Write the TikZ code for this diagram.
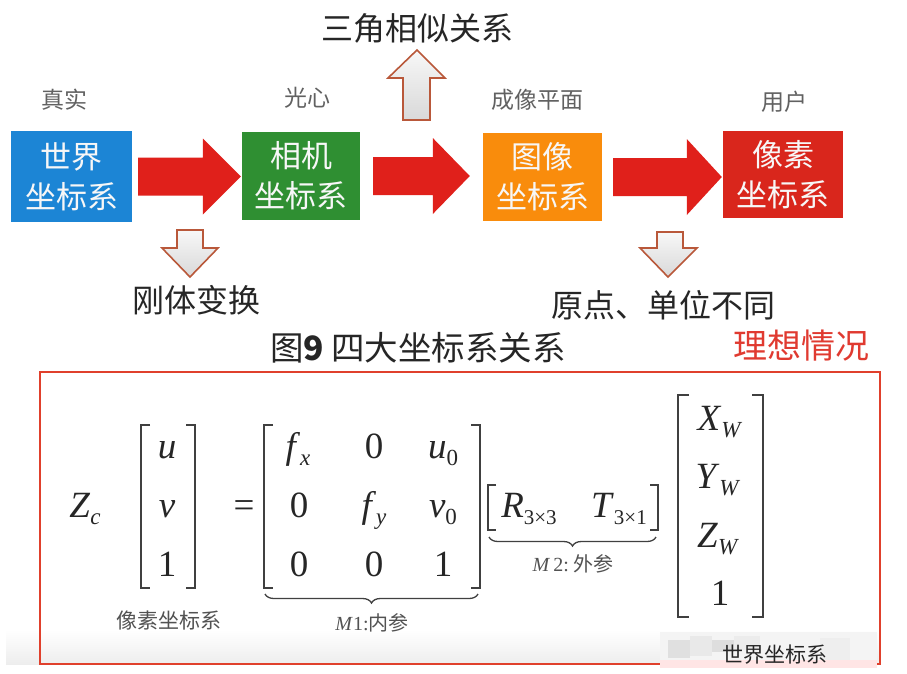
\documentclass[tikz,border=0pt]{standalone}
\usepackage{fontspec}
\setmainfont{Noto Sans CJK SC}
\newfontfamily\tms{Liberation Serif}
\usetikzlibrary{calc,decorations.pathreplacing}
\definecolor{bblue}{HTML}{1C85D5}
\definecolor{bgreen}{HTML}{2F8F32}
\definecolor{borange}{HTML}{F98C0C}
\definecolor{bred}{HTML}{D9261C}
\definecolor{arrowred}{HTML}{E0201B}
\definecolor{hollowedge}{HTML}{B9583A}
\definecolor{framered}{HTML}{E0402C}
\definecolor{idealred}{HTML}{E03A30}
\newcommand\sbs[1]{\raisebox{-7pt}{\fontsize{23}{23}\selectfont #1}}
\newcommand\sbt[1]{\raisebox{-7pt}{\fontsize{21}{21}\selectfont #1}}
\newcommand\fatarrow[3]{%
  \fill[fat] let \p1=#1, \p2=#2 in
    (\x1,\y1+19pt) -- (\x2-#3pt,\y1+19pt) -- (\x2-#3pt,\y1+38pt) -- (\x2,\y1)
    -- (\x2-#3pt,\y1-38pt) -- (\x2-#3pt,\y1-19pt) -- (\x1,\y1-19pt) -- cycle;}
\newcommand\brackets[5]{%
  \draw[brk] (#1+#5,#3) -- (#1,#3) -- (#1,#4) -- (#1+#5,#4);
  \draw[brk] (#2-#5,#3) -- (#2,#3) -- (#2,#4) -- (#2-#5,#4);}
\tikzset{
  cbox/.style={minimum width=120, minimum height=89, inner sep=0, text=white!94!gray,
    align=center, font=\fontsize{31}{40}\selectfont},
  toplbl/.style={text=black!62, font=\fontsize{23}{23}\selectfont, inner sep=0},
  biglbl/.style={text=black!85, font=\fontsize{32}{32}\selectfont, inner sep=0},
  fat/.style={fill=arrowred},
  hollow/.style={draw=hollowedge, line width=1.6, top color=gray!6, bottom color=gray!30},
  ent/.style={anchor=base, inner sep=0, font=\tms\fontsize{37}{37}\selectfont, text=black!85},
  brk/.style={draw=black!75, line width=1.8},
  sm/.style={inner sep=0, text=black!68, font=\fontsize{20}{20}\selectfont},
}
\begin{document}
\begin{tikzpicture}[x=1pt,y=-1pt]
\useasboundingbox (0,0) rectangle (907,673);
\fill[white] (0,0) rectangle (907,673);

% boxes
\node[cbox, fill=bblue, minimum width=121, minimum height=91] (w) at (71.5,176.5) {世界\\坐标系};
\node[cbox, fill=bgreen, minimum width=118, minimum height=88] (c) at (301,176) {相机\\坐标系};
\node[cbox, fill=borange, minimum width=119, minimum height=88] (i) at (542.5,177) {图像\\坐标系};
\node[cbox, fill=bred, minimum width=120, minimum height=87] (p) at (783,174.5) {像素\\坐标系};

% top labels
\node[toplbl] (l1) at (64,100) {真实};
\node[toplbl] (l2) at (307,98) {光心};
\node[toplbl] (l3) at (537,100) {成像平面};
\node[toplbl] (l4) at (784,102) {用户};

% fat arrows
\fatarrow{($(w.east)+(6,0)$)}{($(c.west)+(-1,0)$)}{38}
\fatarrow{($(c.east)+(13,0)$)}{($(i.west)+(-13,0)$)}{37}
\fatarrow{($(i.east)+(11,0)$)}{($(p.west)+(-1,0)$)}{35}

% hollow arrows
\draw[hollow] (403,120) -- (403,78) -- (388,78) -- (417,50) -- (445,78) -- (430,78) -- (430,120) -- cycle;
\draw[hollow] (177,230) -- (177,248) -- (162,248) -- (190,277) -- (218,248) -- (203,248) -- (203,230) -- cycle;
\draw[hollow] (657,232) -- (657,248) -- (640,248) -- (668,277) -- (697,248) -- (683,248) -- (683,232) -- cycle;

% big labels
\node[biglbl] (t1) at (417,28) {三角相似关系};
\node[biglbl] (t2) at (196,300) {刚体变换};
\node[biglbl] (t3) at (663,305) {原点、单位不同};
\node[biglbl, font=\fontsize{33.5}{34}\selectfont] (t4) at (418,348) {图\textbf{9} 四大坐标系关系};
\node[inner sep=0, text=idealred, font=\fontsize{34}{34}\selectfont] (t5) at (801,346) {理想情况};

% bottom soft shadow
\shade[top color=white, bottom color=gray!14] (6,630) rectangle (880,664);

% frame
\draw[framered, line width=2.5] (40,372) rectangle (880,664);

% equation
\node[ent] (zc) at (85,517) {\textit{Z}\sbs{\textit{c}}};
\brackets{141}{195}{425}{588}{9}
\node[ent] (u) at (167,458) {\textit{u}};
\node[ent] (v) at (167,517) {\textit{v}};
\node[ent] (one) at (167,576) {1};
\node[ent] (eq) at (244,517) {=};
\brackets{264}{480}{425}{588}{9}
\node[ent] (m11) at (298,458) {\textit{f}\sbs{\textit{x}}};
\node[ent] (m12) at (374,458) {0};
\node[ent] (m13) at (443,458) {\textit{u}\sbs{0}};
\node[ent] (m21) at (299,517) {0};
\node[ent] (m22) at (374,517) {\textit{f}\sbs{\textit{y}}};
\node[ent] (m23) at (443,517) {\textit{v}\sbs{0}};
\node[ent] (m31) at (299,576) {0};
\node[ent] (m32) at (374,576) {0};
\node[ent] (m33) at (443,576) {1};
\draw[brk, line width=1.3, decorate, decoration={brace, mirror, amplitude=9}] (265,594) -- (478,594);
\node[sm] (k1) at (372,623) {{\tms\textit{M}1:}内参};
\brackets{488}{658}{485}{530}{8}
\node[ent] (r) at (529,517) {\textit{R}\sbt{3×3}};
\node[ent] (t) at (619,517) {\textit{T}\sbt{3×1}};
\draw[brk, line width=1.3, decorate, decoration={brace, mirror, amplitude=9}] (489,537) -- (656,537);
\node[sm] (k2) at (573,564) {{\tms\textit{M}\,2:}\ 外参};
\brackets{678}{763}{395}{617}{11}
\node[ent] (xw) at (720,430) {\textit{X}\sbs{\textit{W}}};
\node[ent] (yw) at (718,488) {\textit{Y}\sbs{\textit{W}}};
\node[ent] (zw) at (718,547) {\textit{Z}\sbs{\textit{W}}};
\node[ent] (w1) at (720,605) {1};
\node[sm, font=\fontsize{21}{21}\selectfont] (pl) at (169,620) {像素坐标系};

% blurred caption patch
\fill[gray!9] (660,632) rectangle (877,668);
\fill[gray!24] (668,640) rectangle (690,658);
\fill[gray!17] (690,636) rectangle (712,656);
\fill[gray!26] (712,640) rectangle (734,652);
\fill[gray!15] (734,636) rectangle (760,650);
\fill[gray!13] (820,638) rectangle (850,660);
\fill[red!10] (660,660) rectangle (877,668);
\node[inner sep=0, text=black!85, font=\fontsize{21}{21}\selectfont] (cap) at (775,655) {世界坐标系};
\end{tikzpicture}
\end{document}
